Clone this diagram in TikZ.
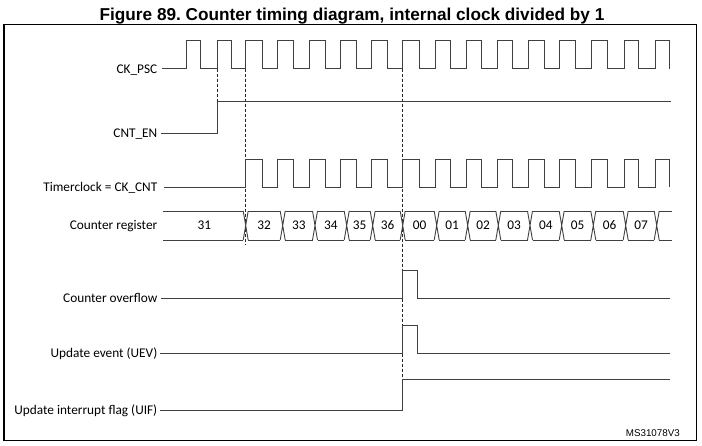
\documentclass[tikz,border=0pt]{standalone}
\usepackage{fontspec}
\setmainfont{Carlito}
\newfontfamily\arialfont{Liberation Sans}
\frenchspacing
\begin{document}
\begin{tikzpicture}[x=1pt,y=-1pt,
  sig/.style={draw=black!75, line width=0.9pt},
  guide/.style={draw=black!85, line width=0.7pt, dash pattern=on 3pt off 2pt},
  lbl/.style={anchor=base east, inner sep=0pt, font=\fontsize{13.3}{15}\selectfont},
  val/.style={anchor=base, inner sep=0pt, font=\fontsize{13.3}{15}\selectfont}]
\useasboundingbox (0,0) rectangle (702,445);
% title and frame
\node[font=\arialfont\bfseries\fontsize{17.2}{20}\selectfont, anchor=base, inner sep=0pt] (title) at (352,20.5) {Figure 89. Counter timing diagram, internal clock divided by 1};
\draw[line width=1.3pt] (4,24.5) rectangle (696.5,440.5);
% labels
\node[lbl] (psc) at (157.5,73.1) {CK\_PSC};
\node[lbl] (en) at (157.5,137.7) {CNT\_EN};
\node[lbl] (cnt) at (157.5,191.7) {Timerclock = CK\_CNT};
\node[lbl] (reg) at (157.5,229.9) {Counter register};
\node[lbl] (ovf) at (157.5,302.4) {Counter overflow};
\node[lbl] (uev) at (157.5,357.4) {Update event (UEV)};
\node[lbl] (uif) at (157.5,414.4) {Update interrupt flag (UIF)};
\node[anchor=base east, inner sep=0pt, font=\arialfont\fontsize{9.8}{11}\selectfont] (ms) at (680,436) {MS31078V3};
% dashed guides
\draw[guide] (217.7,68.7) -- (217.7,101);
\draw[guide] (245.7,68.7) -- (245.7,244);
\draw[guide] (402.5,68.7) -- (402.5,379.3);
% CK_PSC
\draw[sig] (162,68.7) \foreach \r/\f in {186/200,217.7/231.5,245.7/262,277.7/293.5,309/325,340/356,371.7/387.3,402.5/419.2,435/450.5,466/481.7,497.3/512.8,528.3/544,559.3/575,591.7/607,624.3/638.5,655/669.2} { -- (\r,68.7) -- (\r,40.7) -- (\f,40.7) -- (\f,68.7) };
% CNT_EN
\draw[sig] (161,133.3) -- (217.7,133.3) -- (217.7,101) -- (670.5,101);
% CK_CNT
\draw[sig] (164,187.3) \foreach \r/\f in {245.7/262,277.7/293.5,309/325,340/356,371.7/387.3,402.5/419.2,435/450.5,466/481.7,497.3/512.8,528.3/544,559.3/575,591.7/607,624.3/638.5,655/669.2} { -- (\r,187.3) -- (\r,159) -- (\f,159) -- (\f,187.3) };
% Counter register bus
\draw[sig] (163,211) -- (243.2,211) (163,240) -- (243.2,240);
\node[val] (v31) at (204.3,229.9) {31};
\foreach \cx in {245.7,282.7,315,346.7,372.7,402.7,436.7,467.7,498.3,530,561.7,593.3,625.7,656.7} {
  \draw[sig] (\cx-2.5,211) -- (\cx+2.5,240) (\cx-2.5,240) -- (\cx+2.5,211);
}
\foreach \a/\b/\v in {245.7/282.7/32,282.7/315/33,315/346.7/34,346.7/372.7/35,372.7/402.7/36,402.7/436.7/00,436.7/467.7/01,467.7/498.3/02,498.3/530/03,530/561.7/04,561.7/593.3/05,593.3/625.7/06,625.7/656.7/07} {
  \draw[sig] (\a+2.5,211) -- (\b-2.5,211) (\a+2.5,240) -- (\b-2.5,240);
  \node[val] (v\v) at ({(\a+\b)/2},229.9) {\v};
}
\draw[sig] (659.2,211) -- (671.7,211) (659.2,240) -- (671.7,240);
% Counter overflow
\draw[sig] (161,298) -- (402.5,298) -- (402.5,270) -- (417.5,270) -- (417.5,298) -- (670,298);
% UEV
\draw[sig] (160,353) -- (402.5,353) -- (402.5,325) -- (417.5,325) -- (417.5,353) -- (670,353);
% UIF
\draw[sig] (160,410) -- (402.5,410) -- (402.5,379.3) -- (670,379.3);
\end{tikzpicture}
\end{document}
